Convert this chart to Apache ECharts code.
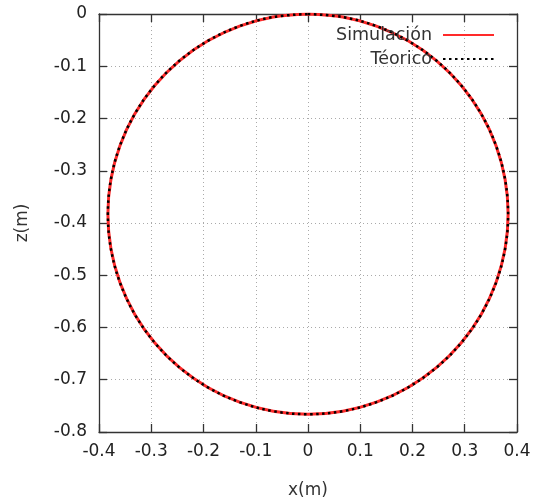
<!DOCTYPE html>
<html>
<head>
<meta charset="utf-8">
<script src="https://cdn.jsdelivr.net/npm/echarts@6/dist/echarts.min.js"></script>
<style>html,body{margin:0;padding:0;background:#fff}#c{width:534px;height:504px}</style>
</head>
<body>
<div id="c"></div>
<script>
// Points read along the trajectory (x, z) in metres
const simX = [0, 0.0665, 0.1310, 0.1915, 0.2462, 0.2934, 0.3317, 0.3599, 0.3772, 0.3830, 0.3772, 0.3599, 0.3317, 0.2934, 0.2462, 0.1915, 0.1310, 0.0665, 0, -0.0665, -0.1310, -0.1915, -0.2462, -0.2934, -0.3317, -0.3599, -0.3772, -0.3830, -0.3772, -0.3599, -0.3317, -0.2934, -0.2462, -0.1915, -0.1310, -0.0665, 0];
const simZ = [0, -0.0058, -0.0231, -0.0513, -0.0896, -0.1368, -0.1915, -0.2520, -0.3165, -0.3830, -0.4495, -0.5140, -0.5745, -0.6292, -0.6764, -0.7147, -0.7429, -0.7602, -0.7660, -0.7602, -0.7429, -0.7147, -0.6764, -0.6292, -0.5745, -0.5140, -0.4495, -0.3830, -0.3165, -0.2520, -0.1915, -0.1368, -0.0896, -0.0513, -0.0231, -0.0058, 0];
const teoX = simX.slice();
const teoZ = simZ.slice();
const seriesNames = ['Simulación', 'Téorico'];
const xTicks = [-0.4, -0.3, -0.2, -0.1, 0, 0.1, 0.2, 0.3, 0.4];
const zTicks = [-0.8, -0.7, -0.6, -0.5, -0.4, -0.3, -0.2, -0.1, 0];

const font = 'DejaVu Sans';
const fs = 17;
const fmt = v => { const r = Math.round(v * 10) / 10; return r === 0 ? '0' : r.toFixed(1); };
const pairs = (a, b) => a.map((v, i) => [v, b[i]]);

const chart = echarts.init(document.getElementById('c'));
const grid = {left: 99, right: 17, top: 14, bottom: 71};
const baseAxis = (extra) => Object.assign({
  type: 'value',
  interval: 0.1,
  axisLine: {show: true, onZero: false, lineStyle: {color: '#333', width: 1.3}},
  axisTick: {show: true, inside: true, length: 8, lineStyle: {color: '#333', width: 1.3}},
  splitLine: {show: false},
  axisLabel: {show: false}
}, extra);

chart.setOption({
  animation: false,
  grid: grid,
  legend: {
    orient: 'vertical', right: 34, top: 21, align: 'right',
    itemWidth: 51, itemHeight: 14, itemGap: 6,
    itemStyle: {opacity: 0},
    textStyle: {fontFamily: font, fontSize: 17.5, color: '#333', padding: [0, 6, 0, 0]},
    data: seriesNames
  },
  xAxis: [
    baseAxis({min: xTicks[0], max: xTicks[xTicks.length - 1], position: 'bottom',
      name: 'x(m)', nameLocation: 'middle', nameGap: 50,
      nameTextStyle: {fontFamily: font, fontSize: fs, color: '#333'},
      axisLabel: {show: true, margin: 11, fontFamily: font, fontSize: fs, color: '#222', formatter: fmt},
      splitLine: {show: true, lineStyle: {color: '#aaa', type: [1, 3], width: 1}}}),
    baseAxis({min: xTicks[0], max: xTicks[xTicks.length - 1], position: 'top'})
  ],
  yAxis: [
    baseAxis({min: zTicks[0], max: zTicks[zTicks.length - 1], position: 'left',
      name: 'z(m)', nameLocation: 'middle', nameGap: 68,
      nameTextStyle: {fontFamily: font, fontSize: fs, color: '#333'},
      axisLabel: {show: true, margin: 12, fontFamily: font, fontSize: fs, color: '#222', formatter: fmt},
      splitLine: {show: true, lineStyle: {color: '#aaa', type: [1, 3], width: 1}}}),
    baseAxis({min: zTicks[0], max: zTicks[zTicks.length - 1], position: 'right'})
  ],
  series: [
    {name: seriesNames[0], type: 'line', data: pairs(simX, simZ), smooth: 0.35, showSymbol: false, symbol: 'none',
      lineStyle: {color: '#ff2a2a', width: 3}, itemStyle: {color: '#ff2a2a'}, z: 2},
    {name: seriesNames[1], type: 'line', data: pairs(teoX, teoZ), smooth: 0.35, showSymbol: false, symbol: 'none',
      lineStyle: {color: '#000', width: 2.5, type: [2.5, 3.5]}, itemStyle: {color: '#000'}, z: 3}
  ]
});
</script>
</body>
</html>
